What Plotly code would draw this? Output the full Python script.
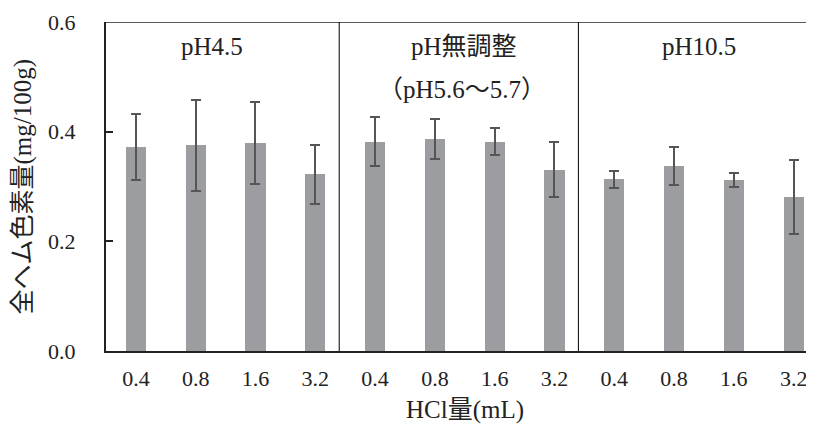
import plotly.graph_objects as go

hcl_labels = ["0.4", "0.8", "1.6", "3.2"]
groups = ["pH4.5", "pH無調整", "pH10.5"]
values = [0.372, 0.375, 0.379, 0.322,
          0.382, 0.387, 0.382, 0.331,
          0.313, 0.337, 0.312, 0.281]
errors = [0.061, 0.083, 0.075, 0.054,
          0.044, 0.037, 0.024, 0.050,
          0.015, 0.035, 0.013, 0.068]
tick_labels = hcl_labels * 3
xpos = list(range(len(values)))

serif = "Liberation Serif, Noto Sans CJK JP, serif"
txt = "#222222"

# page has an 8px body margin; compensate in figure size/margins
L, T, PW = 98, 14, 708

fig = go.Figure()
fig.add_trace(go.Bar(
    x=xpos, y=values, width=0.34,
    marker=dict(color="#9c9da1", line=dict(width=0)),
    error_y=dict(type="data", array=errors, visible=True,
                 color="#555555", thickness=2, width=5),
    showlegend=False,
))

# top border line and group dividers
fig.add_shape(type="line", xref="paper", yref="y", x0=0, x1=1, y0=0.6, y1=0.6,
              line=dict(color="#222222", width=1.5))
for xd in [3.4, 7.4]:
    fig.add_shape(type="line", xref="x", yref="y", x0=xd, x1=xd, y0=0, y1=0.6,
                  line=dict(color="#000000", width=1))

ann_font = dict(family=serif, size=25, color=txt)
fig.add_annotation(x=1.27, y=0.6, xref="x", yref="y", yshift=-24, yanchor="middle",
                   text=groups[0], showarrow=False, font=ann_font)
fig.add_annotation(x=5.48, y=0.6, xref="x", yref="y", yshift=-24, yanchor="middle",
                   text=groups[1], showarrow=False, font=ann_font)
fig.add_annotation(x=5.45, y=0.6, xref="x", yref="y", yshift=-67, yanchor="middle",
                   text="（pH5.6〜5.7）", showarrow=False, font=ann_font)
fig.add_annotation(x=9.42, y=0.6, xref="x", yref="y", yshift=-24, yanchor="middle",
                   text=groups[2], showarrow=False, font=ann_font)

fig.add_annotation(x=(465 - 8 - L) / PW, y=0, xref="paper", yref="paper",
                   yshift=-59, yanchor="middle", xanchor="center",
                   text="HCl量(mL)", showarrow=False,
                   font=dict(family=serif, size=25, color=txt))

fig.add_annotation(x=(22 - 8 - L) / PW, y=0.5, xref="paper", yref="paper",
                   textangle=-90, xanchor="center", yanchor="middle",
                   text="全ヘム色素量(mg/100g)", showarrow=False,
                   font=dict(family=serif, size=25, color=txt))

fig.update_layout(
    width=806, height=423,
    margin=dict(l=L, r=0, t=T, b=80, autoexpand=False),
    plot_bgcolor="white", paper_bgcolor="white",
    bargap=0,
    font=dict(family=serif, size=22, color=txt),
    xaxis=dict(
        tickmode="array", tickvals=xpos, ticktext=tick_labels,
        range=[-0.5, 11.34], showline=True, linecolor="#222222", linewidth=2,
        ticks="", showgrid=False, zeroline=False, ticklabelstandoff=7,
        tickfont=dict(family=serif, size=22, color=txt),
    ),
    yaxis=dict(
        range=[0, 0.6], dtick=0.2, tickformat=".1f",
        showline=True, linecolor="#222222", linewidth=2,
        ticks="inside", ticklen=7, tickcolor="#222222", tickwidth=1.5,
        showgrid=False, zeroline=False, ticklabelstandoff=24,
        tickfont=dict(family=serif, size=22, color=txt),
    ),
)

fig.write_html("out.html")
